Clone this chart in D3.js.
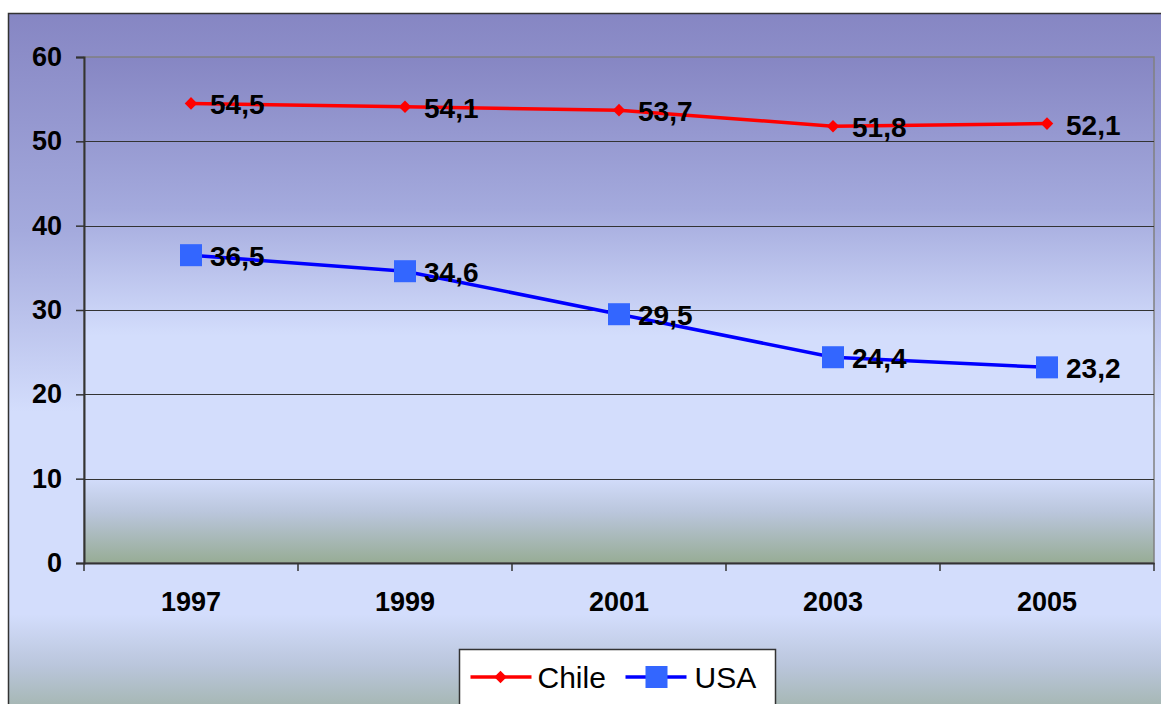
<!DOCTYPE html>
<html>
<head>
<meta charset="utf-8">
<script src="https://cdn.jsdelivr.net/npm/d3@7"></script>
<style>
  body { margin: 0; background: #fff; }
  svg { display: block; font-family: Arial, "Liberation Sans", sans-serif; }
</style>
</head>
<body>
<div id="chart"></div>
<script>
const years = ['1997', '1999', '2001', '2003', '2005'];
const chile = [54.5, 54.1, 53.7, 51.8, 52.1];
const usa = [36.5, 34.6, 29.5, 24.4, 23.2];
const yTicks = [0, 10, 20, 30, 40, 50, 60];

const W = 1161, H = 704;
const margin = { top: 57, right: 7, bottom: 141, left: 84 };
const w = W - margin.left - margin.right;
const h = H - margin.top - margin.bottom;

const svg = d3.select('#chart').append('svg')
    .attr('width', W)
    .attr('height', H);

const defs = svg.append('defs');
function addGrad(id) {
    const g = defs.append('linearGradient')
        .attr('id', id)
        .attr('x1', 0).attr('y1', 0).attr('x2', 0).attr('y2', 1);
    g.append('stop').attr('offset', '0').attr('stop-color', '#8686c3');
    g.append('stop').attr('offset', '0.3').attr('stop-color', '#a4aadd');
    g.append('stop').attr('offset', '0.55').attr('stop-color', '#d3ddfc');
    g.append('stop').attr('offset', '0.83').attr('stop-color', '#d3ddfc');
    g.append('stop').attr('offset', '0.9').attr('stop-color', '#bac6dc');
    g.append('stop').attr('offset', '1').attr('stop-color', '#97ac95');
}
addGrad('outerGrad');
addGrad('plotGrad');

// outer chart area
svg.append('rect')
    .attr('x', 8.5).attr('y', 13.5)
    .attr('width', W + 20).attr('height', H + 20)
    .style('fill', 'url(#outerGrad)')
    .style('stroke', '#333')
    .style('stroke-width', 1.5);

const chart = svg.append('g')
    .attr('transform', 'translate(' + margin.left + ',' + margin.top + ')');

const x = d3.scaleBand()
    .domain(years)
    .range([0, w]);

const y = d3.scaleLinear()
    .domain([0, 60])
    .range([h, 0]);

chart.append('rect')
    .attr('width', w)
    .attr('height', h)
    .style('fill', 'url(#plotGrad)')
    .style('stroke', '#808080')
    .style('stroke-width', 1.5);

// gridlines
chart.append('g')
    .selectAll('line')
    .data(yTicks.filter(d => d > 0 && d < 60))
    .enter()
    .append('line')
        .attr('x1', 0)
        .attr('x2', w)
        .attr('y1', d => Math.round(y(d)) + 0.5)
        .attr('y2', d => Math.round(y(d)) + 0.5)
        .style('stroke', '#333')
        .style('stroke-width', 1);

// y axis
const axisY = chart.append('g')
    .call(d3.axisLeft(y).tickValues(yTicks).tickSize(8).tickPadding(14));
axisY.select('.domain').style('stroke', '#333').style('stroke-width', 2);
axisY.selectAll('.tick line').style('stroke', '#333').style('stroke-width', 1.5);
axisY.selectAll('.tick text')
    .style('font-size', '27px')
    .style('font-weight', 'bold')
    .style('fill', '#000');

// x axis
const axisX = chart.append('g')
    .attr('transform', 'translate(0,' + h + ')')
    .call(d3.axisBottom(x).tickSize(0).tickPadding(29));
axisX.select('.domain').style('stroke', '#333').style('stroke-width', 2);
axisX.selectAll('.tick text')
    .style('font-size', '27px')
    .style('font-weight', 'bold')
    .style('fill', '#000');
axisX.append('g')
    .selectAll('line')
    .data(d3.range(years.length + 1))
    .enter()
    .append('line')
        .attr('x1', i => i * x.step())
        .attr('x2', i => i * x.step())
        .attr('y1', 0)
        .attr('y2', 8)
        .style('stroke', '#333')
        .style('stroke-width', 1.5);

const cx = d => x(d) + x.bandwidth() / 2;

const line = d3.line()
    .x((d, i) => cx(years[i]))
    .y(d => y(d));

// Chile
chart.append('path')
    .datum(chile)
    .attr('d', line)
    .style('fill', 'none')
    .style('stroke', '#ff0000')
    .style('stroke-width', 3.5);

chart.selectAll('.chile-pt')
    .data(chile)
    .enter()
    .append('path')
        .attr('class', 'chile-pt')
        .attr('d', d3.symbol().type(d3.symbolDiamond2).size(100))
        .attr('transform', (d, i) => 'translate(' + cx(years[i]) + ',' + y(d) + ')')
        .style('fill', '#ff0000');

// USA
chart.append('path')
    .datum(usa)
    .attr('d', line)
    .style('fill', 'none')
    .style('stroke', '#0000ff')
    .style('stroke-width', 3.5);

chart.selectAll('.usa-pt')
    .data(usa)
    .enter()
    .append('rect')
        .attr('class', 'usa-pt')
        .attr('x', (d, i) => cx(years[i]) - 11)
        .attr('y', d => y(d) - 11)
        .attr('width', 22)
        .attr('height', 22)
        .style('fill', '#3366ff');

// data labels
function labels(data, cls) {
    chart.selectAll('.' + cls)
        .data(data)
        .enter()
        .append('text')
            .attr('class', cls)
            .attr('x', (d, i) => cx(years[i]) + 19)
            .attr('y', d => y(d) + 11)
            .style('font-size', '28px')
            .style('font-weight', 'bold')
            .style('fill', '#000')
            .text(d => d3.format('.1f')(d).replace('.', ','));
}
labels(chile, 'chile-lbl');
labels(usa, 'usa-lbl');

// legend
const legend = svg.append('g')
    .attr('transform', 'translate(459.5,649.5)');
legend.append('rect')
    .attr('width', 316)
    .attr('height', 60)
    .style('fill', '#fff')
    .style('stroke', '#333')
    .style('stroke-width', 1.5);

legend.append('line')
    .attr('x1', 11).attr('x2', 72).attr('y1', 27.5).attr('y2', 27.5)
    .style('stroke', '#ff0000').style('stroke-width', 3.5);
legend.append('path')
    .attr('d', d3.symbol().type(d3.symbolDiamond2).size(100))
    .attr('transform', 'translate(41,27.5)')
    .style('fill', '#ff0000');
legend.append('text')
    .attr('x', 78).attr('y', 38)
    .style('font-size', '30px')
    .text('Chile');

legend.append('line')
    .attr('x1', 166).attr('x2', 227).attr('y1', 27.5).attr('y2', 27.5)
    .style('stroke', '#0000ff').style('stroke-width', 3.5);
legend.append('rect')
    .attr('x', 186).attr('y', 16.5).attr('width', 22).attr('height', 22)
    .style('fill', '#3366ff');
legend.append('text')
    .attr('x', 235).attr('y', 38)
    .style('font-size', '30px')
    .text('USA');
</script>
</body>
</html>
